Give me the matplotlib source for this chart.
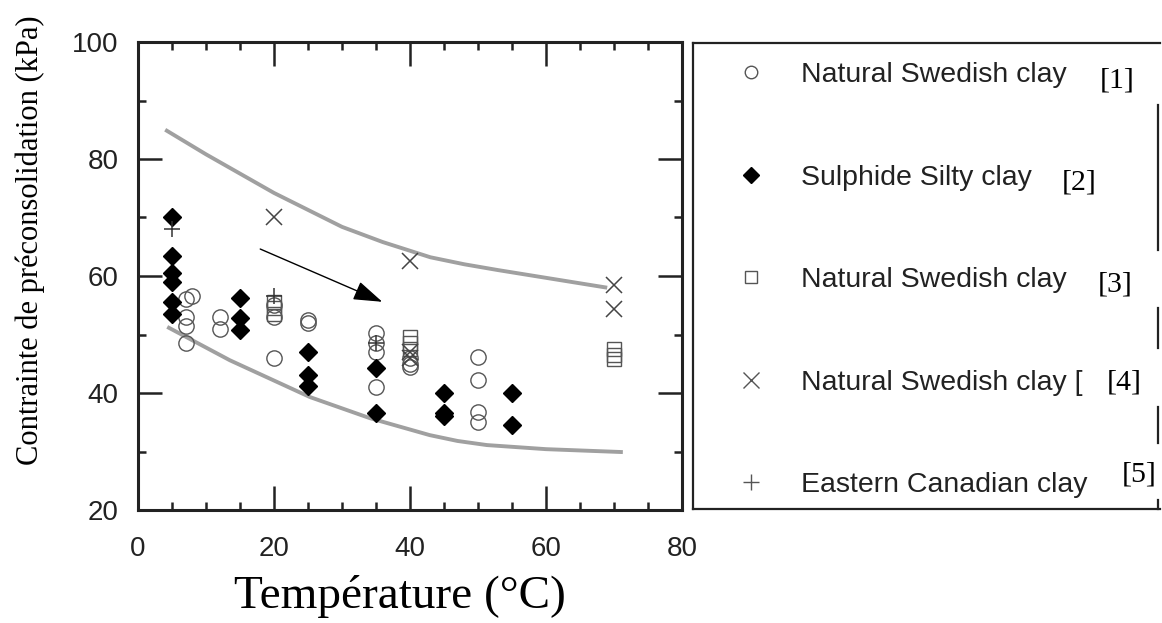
import matplotlib
matplotlib.use("Agg")
import matplotlib.pyplot as plt
from matplotlib.lines import Line2D

# [1] Natural Swedish clay (cercles)
circ_x = [7, 8, 7, 7, 7, 12, 12, 20, 20, 20, 25, 25, 35, 35, 35, 35, 40, 40, 40, 50, 50, 50, 50]
circ_y = [56, 56.5, 53, 51.5, 48.5, 53, 51, 55, 53, 46, 52, 52.4, 50.3, 48.5, 47, 41, 46, 45, 44.5, 46.2, 42.2, 36.8, 35]
# [2] Sulphide Silty clay (losanges)
diam_x = [5, 5, 5, 5, 5, 5, 15, 15, 15, 25, 25, 25, 35, 35, 45, 45, 45, 55, 55]
diam_y = [70, 63.5, 60.5, 59, 55.5, 53.5, 56.2, 52.8, 50.8, 47, 43, 41.2, 44.2, 36.6, 40, 36.5, 36, 40, 34.5]
# [3] Natural Swedish clay (carres)
sq_x = [20, 20, 20, 40, 40, 40, 70, 70, 70]
sq_y = [55.5, 54.5, 53.5, 49.5, 48.5, 47.5, 47.5, 46.5, 45.8]
# [4] Natural Swedish clay (croix)
cross_x = [20, 40, 40, 40, 70, 70]
cross_y = [70, 62.5, 47, 46, 58.5, 54.3]
# [5] Eastern Canadian clay (plus)
plus_x = [5, 20, 35]
plus_y = [68, 56.5, 48.5]

# enveloppes grises
haut_x = [4, 10, 20, 30, 36, 43, 48, 53, 61, 69]
haut_y = [85, 80.8, 74.2, 68.4, 65.8, 63.2, 62, 61, 59.5, 58]
bas_x = [4.3, 13.5, 25.3, 34.1, 42.9, 47, 51.3, 60, 71.3]
bas_y = [51.3, 45.6, 39.3, 35.7, 32.8, 31.8, 31.1, 30.4, 29.9]

labels = ["Natural Swedish clay", "Sulphide Silty clay", "Natural Swedish clay",
          "Natural Swedish clay [", "Eastern Canadian clay"]
refs = ["[1]", "[2]", "[3]", "[4]", "[5]"]

W, H = 1162, 623
fig = plt.figure(figsize=(W / 100, H / 100), dpi=100)
ax = fig.add_axes([138 / W, 1 - 510 / H, (682 - 138) / W, (510 - 42) / H])

ax.plot(haut_x, haut_y, color="#a0a0a0", lw=2.8, solid_capstyle="butt")
ax.plot(bas_x, bas_y, color="#a0a0a0", lw=2.8, solid_capstyle="butt")

ax.plot(circ_x, circ_y, "o", ls="none", ms=11, mfc="none", mec="#555555", mew=1.0)
ax.plot(diam_x, diam_y, "D", ls="none", ms=9.5, mfc="black", mec="black")
ax.plot(sq_x, sq_y, "s", ls="none", ms=10, mfc="none", mec="#555555", mew=1.0)
ax.plot(cross_x, cross_y, "x", ls="none", ms=12, mec="#444444", mew=1.1)
ax.plot(plus_x, plus_y, "+", ls="none", ms=12, mec="#333333", mew=1.1)

ax.annotate("", xy=(36.3, 55.4), xytext=(17.6, 64.8),
            arrowprops=dict(arrowstyle="-|>,head_length=1.8,head_width=0.6",
                            color="black", lw=1.0))

ax.set_xlim(0, 80)
ax.set_ylim(20, 100)
ax.set_xticks([0, 20, 40, 60, 80])
ax.set_yticks([20, 40, 60, 80, 100])
ax.set_xticks(range(0, 81, 5), minor=True)
ax.set_yticks(range(20, 101, 10), minor=True)
ax.tick_params(which="both", direction="in", top=True, right=True, width=1.8, color="#222222")
ax.tick_params(which="major", length=17)
ax.tick_params(which="minor", length=6)
ax.tick_params(axis="x", pad=19, labelsize=20, labelcolor="#222222")
ax.tick_params(axis="y", pad=14, labelsize=20, labelcolor="#222222")
for lab in ax.get_xticklabels() + ax.get_yticklabels():
    lab.set_family("Liberation Sans")
for s in ax.spines.values():
    s.set_linewidth(2.2)
    s.set_color("#222222")

fig.text(400 / W, 1 - 597 / H, "Température (°C)", family="Liberation Serif",
         fontsize=34, ha="center", va="center")
fig.text(30 / W, 1 - 240 / H, "Contrainte de préconsolidation (kPa)", family="Liberation Serif",
         fontsize=22, ha="center", va="center", rotation=90)

# legende
handles = [
    Line2D([], [], ls="none", marker="o", ms=9, mfc="none", mec="#555555", mew=1.0),
    Line2D([], [], ls="none", marker="D", ms=8, mfc="black", mec="black"),
    Line2D([], [], ls="none", marker="s", ms=9, mfc="none", mec="#555555", mew=1.0),
    Line2D([], [], ls="none", marker="x", ms=11, mec="#555555", mew=1.0),
    Line2D([], [], ls="none", marker="+", ms=12, mec="#555555", mew=1.0),
]
leg = fig.legend(handles, labels, loc="upper left", bbox_to_anchor=(723 / W, 1 - 62 / H),
                 frameon=False, borderpad=0, borderaxespad=0, handlelength=2.0,
                 handletextpad=0.75, labelspacing=2.69,
                 prop={"family": "Liberation Sans", "size": 20.5})
for t in leg.get_texts():
    t.set_color("#222222")

ref_pos = [(1100, 80), (1062, 183), (1098, 285), (1107, 383), (1122, 475)]
for r, (px, py) in zip(refs, ref_pos):
    fig.text(px / W, 1 - py / H, r, family="Liberation Serif", fontsize=21.5,
             ha="left", va="center")

# cadre de la legende (bord droit interrompu)
def fig_line(xs, ys):
    fig.add_artist(Line2D([x / W for x in xs], [1 - y / H for y in ys],
                          color="#222222", lw=1.6))

fig_line([693, 1160], [43, 43])
fig_line([693, 1160], [509, 509])
fig_line([693, 693], [43, 509])
for y0, y1 in [(105, 250), (308, 348), (407, 443), (500, 509)]:
    fig_line([1158, 1158], [y0, y1])

fig.savefig("out.png", dpi=100)
